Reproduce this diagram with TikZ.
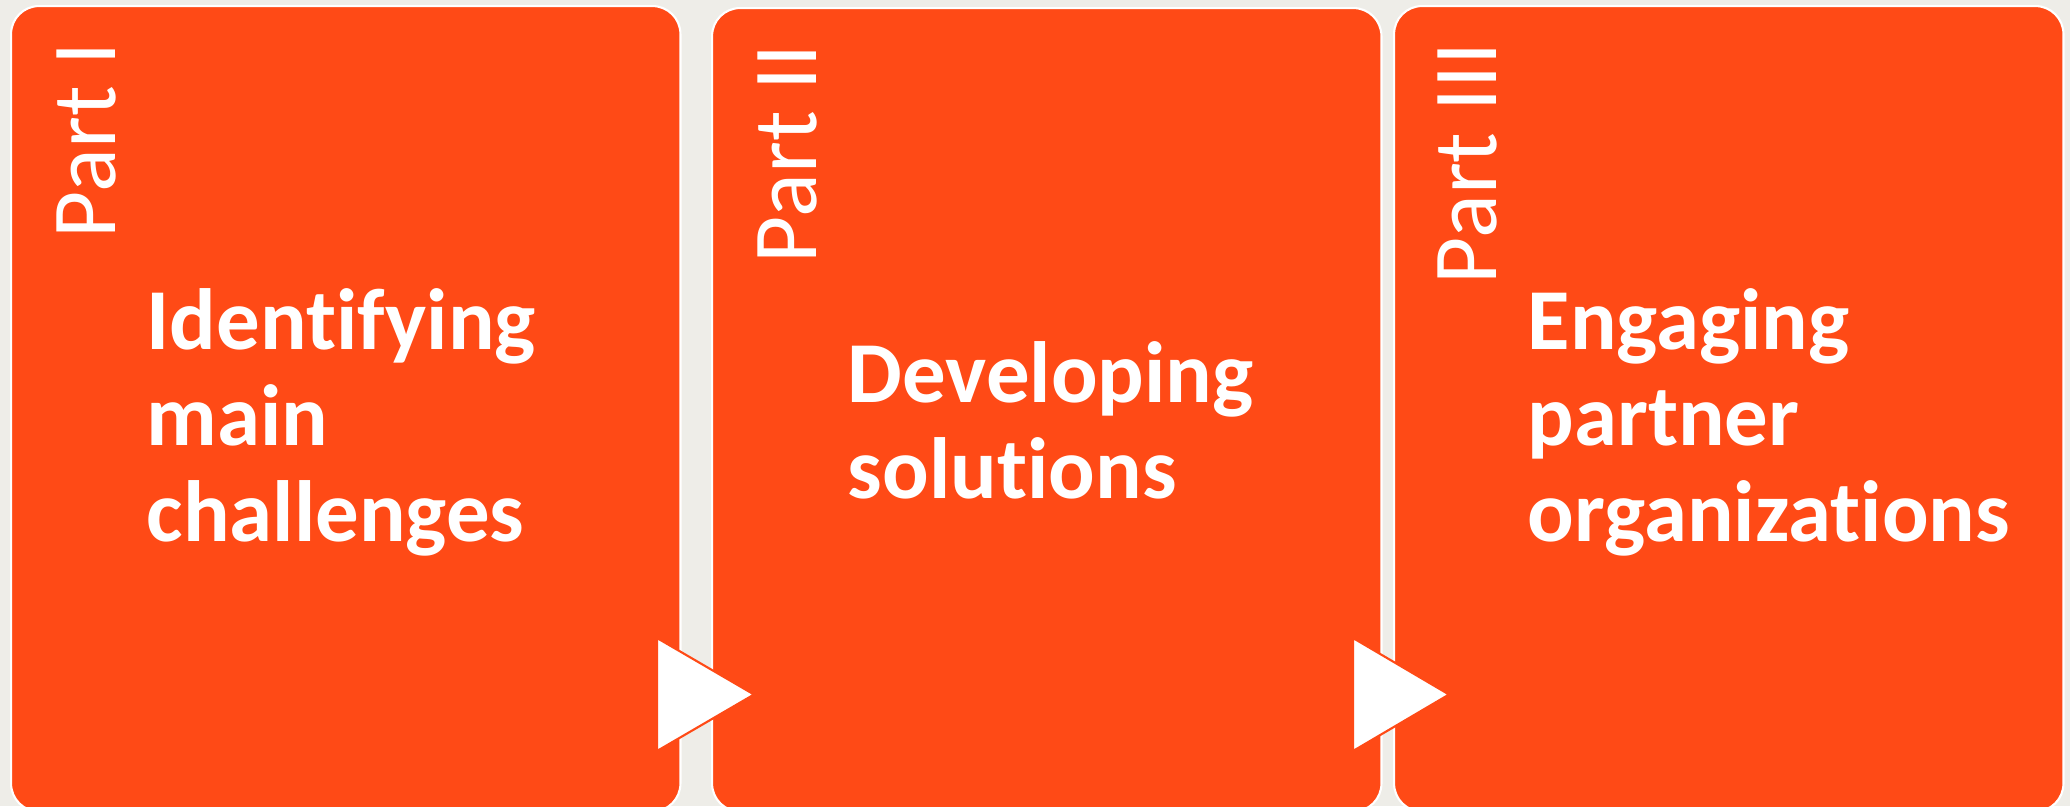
\documentclass[tikz,border=0pt]{standalone}
\usepackage{fontspec}
\setmainfont{Carlito}[Ligatures={NoCommon,NoRare}]
\usepackage{xcolor}
\usetikzlibrary{positioning}
\definecolor{partorange}{RGB}{255,74,22}
\definecolor{slidegray}{RGB}{238,237,232}

\begin{document}
\begin{tikzpicture}[x=0.01cm,y=-0.01cm,
    part/.style={shape=rectangle, rounded corners=0.28cm, fill=partorange, draw=white, line width=0.6pt, minimum width=6.69cm, minimum height=8.05cm, anchor=north west, inner sep=0pt},
    partno/.style={text=white, rotate=90, anchor=base east, inner sep=0pt, font=\fontsize{26}{30}\selectfont},
    parttext/.style={text=white, align=left, anchor=west, inner sep=0pt, font=\fontsize{24.7}{27.4}\selectfont\bfseries},
    tri/.style={fill=white, draw=partorange, line width=0.6pt}]
    \useasboundingbox (0,0) rectangle (2070,806);
    \clip (0,0) rectangle (2070,806);
    \fill[slidegray] (0,0) rectangle (2070,806);

    \node[part] (p1) at (10,5) {};
    \node[part, minimum height=8.03cm] (p2) at (711,7) {};
    \node[part] (p3) at (1393,5) {};

    \node[partno] (n1) at ([xshift=1.05cm,yshift=-0.37cm]p1.north west) {Part I};
    \node[partno] (n2) at ([xshift=1.05cm,yshift=-0.37cm]p2.north west) {Part II};
    \node[partno] (n3) at ([xshift=1.03cm,yshift=-0.37cm]p3.north west) {Part III};

    \node[parttext] (t1) at ([xshift=1.36cm,yshift=-4.17cm]p1.north west) {Identifying\\main\\challenges};
    \node[parttext] (t2) at ([xshift=1.36cm,yshift=-4.13cm]p2.north west) {Developing\\solutions};
    \node[parttext] (t3) at ([xshift=1.34cm,yshift=-4.17cm]p3.north west) {Engaging\\partner\\organizations};

    % arrows between the parts
    \draw[tri] (657,638) -- (754,694.5) -- (657,751) -- cycle;
    \draw[tri] (1353,638) -- (1449,694.5) -- (1353,751) -- cycle;
\end{tikzpicture}
\end{document}
